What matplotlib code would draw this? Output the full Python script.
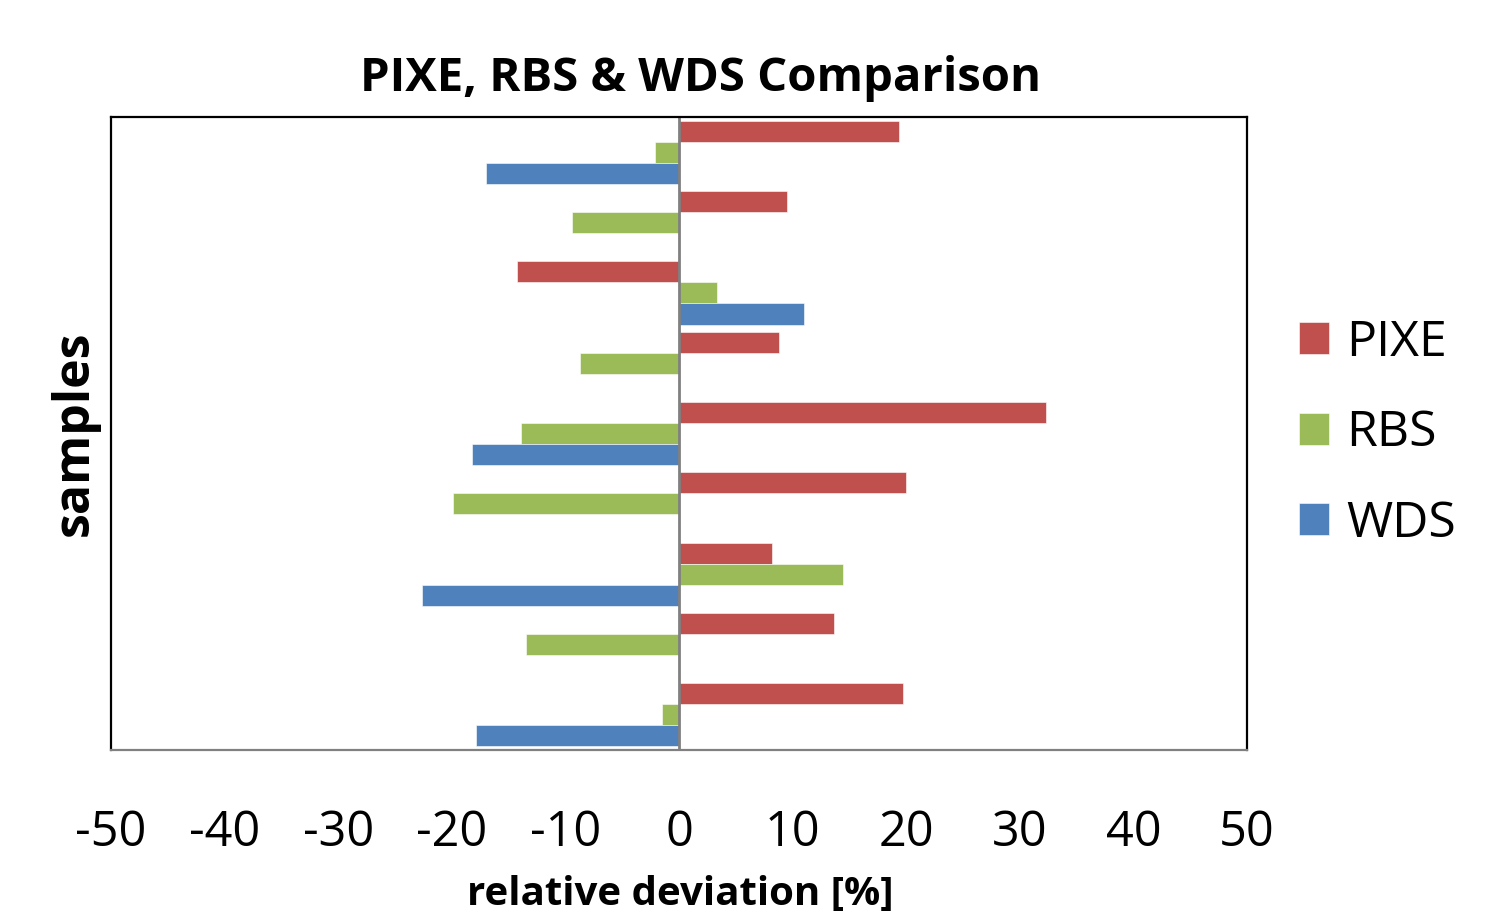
import numpy as np
import matplotlib.pyplot as plt

# Data (top sample first)
samples = np.arange(9)
pixe = [19.4, 9.5, -14.3, 8.8, 32.3, 20.0, 8.2, 13.6, 19.7]
rbs = [-2.1, -9.4, 3.3, -8.7, -13.9, -19.9, 14.4, -13.5, -1.5]
wds = [-17.0, np.nan, 11.0, np.nan, -18.2, np.nan, -22.6, np.nan, -17.9]
series_names = ["PIXE", "RBS", "WDS"]
colors = ["#C0504D", "#9BBB59", "#4F81BD"]

plt.rcParams['font.family'] = ['Open Sans', 'DejaVu Sans']
plt.rcParams['axes.unicode_minus'] = False

fig = plt.figure(figsize=(14.98, 9.18), dpi=100)
ax = fig.add_axes([0.0741, 0.183, 0.7584, 0.6895])

h = 0.3
for k, (vals, name, c) in enumerate(zip([pixe, rbs, wds], series_names, colors)):
    ax.barh(samples + (k - 1) * h, vals, height=h, color=c, label=name,
            edgecolor="white", linewidth=0.4)

ax.set_xlim(-50, 50)
ax.set_ylim(8.5, -0.5)
ax.set_xticks(range(-50, 51, 10))
ax.set_yticks([])
ax.tick_params(axis="x", length=0, pad=42, labelsize=35)
ax.axvline(0, color="#808080", linewidth=2)

for s in ["top", "left", "right"]:
    ax.spines[s].set_color("black")
    ax.spines[s].set_linewidth(1.6)
ax.spines["bottom"].set_color("#808080")
ax.spines["bottom"].set_linewidth(1.6)

fig.text(0.4676, 0.915, "PIXE, RBS & WDS Comparison", ha="center", va="center",
         fontsize=34, fontweight="bold")
fig.text(0.05, 0.528, "samples", ha="center", va="center", rotation=90,
         fontsize=36, fontweight="bold")
fig.text(0.4539, 0.004, "relative deviation [%]", ha="center", va="bottom",
         fontsize=29, fontweight="bold")

ax.legend(loc="center left", bbox_to_anchor=(1.006, 0.50), frameon=False,
          fontsize=36, handlelength=0.6, handleheight=0.6, handletextpad=0.35,
          labelspacing=0.82)

fig.savefig("out.png", dpi=100)
